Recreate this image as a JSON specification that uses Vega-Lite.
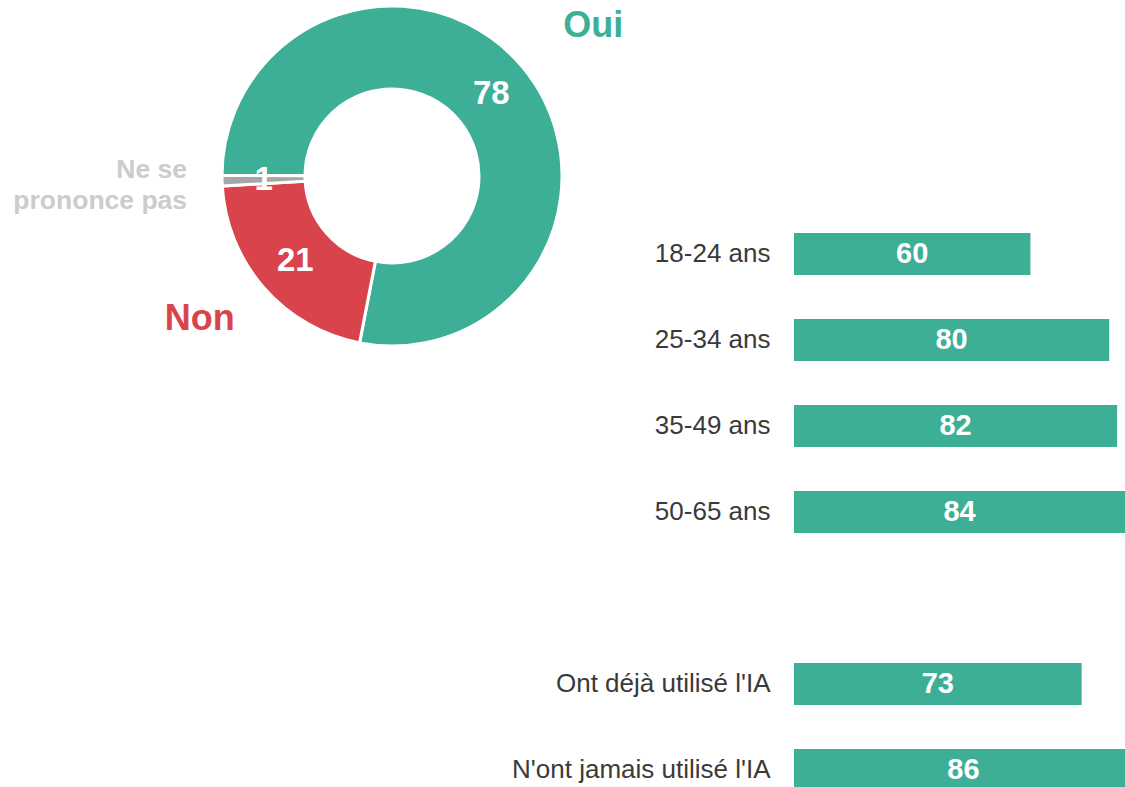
{
  "$schema": "https://vega.github.io/schema/vega-lite/v6.json",
  "padding": 0,
  "background": "white",
  "config": {"view": {"stroke": null}, "font": "Liberation Sans"},
  "bounds": "flush",
  "spacing": 10,
  "hconcat": [
    {
      "width": 784,
      "height": 352,
      "data": {"values": [
        {"cat": "Oui", "value": 78, "label": "Oui"},
        {"cat": "Non", "value": 21, "label": "Non"},
        {"cat": "Ne se prononce pas", "value": 1, "label": "Ne se\nprononce pas"}
      ]},
      "encoding": {
        "theta": {"field": "value", "type": "quantitative", "stack": true, "scale": {"range": [4.7159, 10.9991]}},
        "order": {"field": "cat", "type": "nominal", "sort": "descending"},
        "detail": {"field": "cat", "type": "nominal"}
      },
      "layer": [
        {
          "mark": {"type": "arc", "outerRadius": 170, "innerRadius": 87, "stroke": "white", "strokeWidth": 3},
          "encoding": {
            "color": {"field": "cat", "type": "nominal", "legend": null,
              "scale": {"domain": ["Oui", "Non", "Ne se prononce pas"], "range": ["#3daf96", "#d9434b", "#a6a6a6"]}}
          }
        },
        {
          "mark": {"type": "text", "radius": 128.5, "fontSize": 33, "fontWeight": "bold", "color": "white", "baseline": "middle", "align": "center"},
          "encoding": {"text": {"field": "value", "type": "quantitative"}}
        },
        {
          "mark": {"type": "text", "radius": 250, "dx": 8, "dy": 9, "fontWeight": "bold", "color": "#3daf96", "baseline": "middle", "align": "center"},
          "encoding": {
            "text": {"condition": {"test": "datum.cat === 'Oui'", "field": "label", "type": "nominal"}, "value": ""},
            "size": {"condition": {"test": "datum.cat === 'Oui'", "value": 36}, "value": 0}
          }
        },
        {
          "mark": {"type": "text", "radius": 245, "dx": -8, "dy": -18, "fontWeight": "bold", "color": "#d9434b", "baseline": "middle", "align": "center"},
          "encoding": {
            "text": {"condition": {"test": "datum.cat === 'Non'", "field": "label", "type": "nominal"}, "value": ""},
            "size": {"condition": {"test": "datum.cat === 'Non'", "value": 36}, "value": 0}
          }
        },
        {
          "mark": {"type": "text", "radius": 205, "dy": -12, "fontWeight": "bold", "color": "#cccccc", "baseline": "middle", "align": "right", "lineBreak": "\n", "lineHeight": 31},
          "encoding": {
            "text": {"condition": {"test": "datum.cat === 'Ne se prononce pas'", "field": "label", "type": "nominal"}, "value": ""},
            "size": {"condition": {"test": "datum.cat === 'Ne se prononce pas'", "value": 26.5}, "value": 0}
          }
        }
      ]
    },
    {
      "width": 331,
      "height": 787,
      "data": {"values": [
        {"group": "18-24 ans", "value": 60},
        {"group": "25-34 ans", "value": 80},
        {"group": "35-49 ans", "value": 82},
        {"group": "50-65 ans", "value": 84},
        {"group": "Ont déjà utilisé l'IA", "value": 73},
        {"group": "N'ont jamais utilisé l'IA", "value": 86}
      ]},
      "encoding": {
        "y": {
          "field": "group", "type": "nominal",
          "scale": {
            "domain": ["  ", "18-24 ans", "25-34 ans", "35-49 ans", "50-65 ans", " ", "Ont déjà utilisé l'IA", "N'ont jamais utilisé l'IA"],
            "paddingInner": 0.5116, "paddingOuter": 0.831, "align": 1
          },
          "axis": {"title": null, "ticks": false, "domain": false, "labelFontSize": 26, "labelColor": "#3a3a3a", "labelPadding": 24, "labelOffset": 4, "labelLimit": 400, "labelFont": "Liberation Sans"}
        }
      },
      "layer": [
        {
          "mark": {"type": "bar", "color": "#3daf96", "clip": true, "yOffset": 4},
          "encoding": {"x": {"field": "value", "type": "quantitative", "scale": {"domain": [0, 84], "nice": false}, "axis": null}}
        },
        {
          "mark": {"type": "text", "color": "white", "fontSize": 29, "fontWeight": "bold", "yOffset": 4, "align": "center", "baseline": "middle"},
          "encoding": {
            "x": {"field": "value", "type": "quantitative", "scale": {"domain": [0, 168], "nice": false}, "axis": null},
            "text": {"field": "value", "type": "quantitative"}
          }
        }
      ],
      "resolve": {"scale": {"x": "independent"}}
    }
  ]
}
